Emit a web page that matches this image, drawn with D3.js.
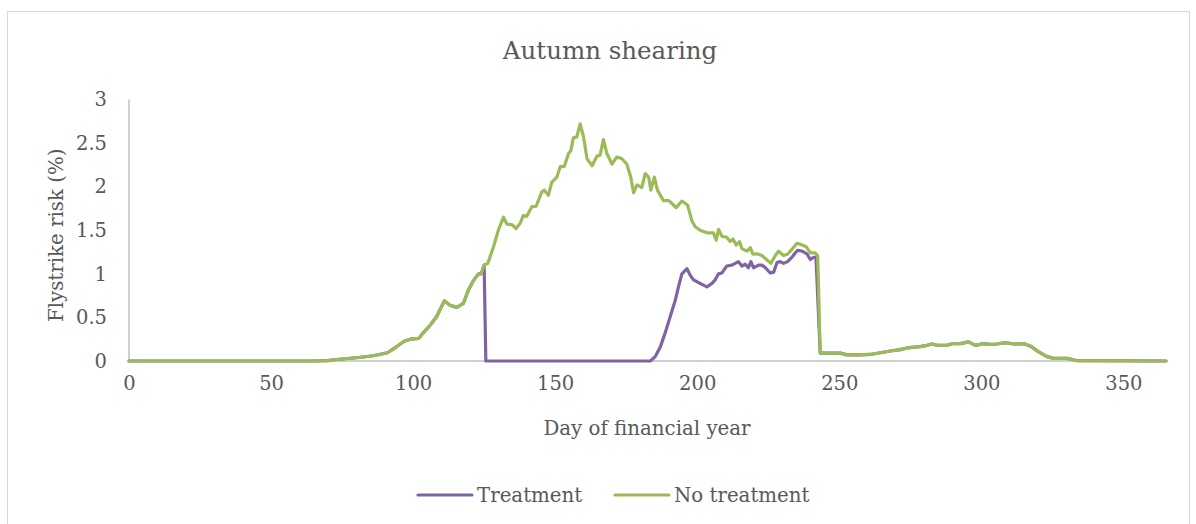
<!DOCTYPE html>
<html>
<head>
<meta charset="utf-8">
<script src="https://cdn.jsdelivr.net/npm/d3@7"></script>
<style>
  html, body { margin: 0; padding: 0; background: #fff; }
  svg { display: block; }
  text { font-family: "DejaVu Serif", "Liberation Serif", serif; fill: #595959; }
</style>
</head>
<body>
<svg id="chart" width="1196" height="524"></svg>
<script>
// ---- Data ----
const title = "Autumn shearing";
const xLabel = "Day of financial year";
const yLabel = "Flystrike risk (%)";
const seriesNames = ["Treatment", "No treatment"];
const xTicks = [0, 50, 100, 150, 200, 250, 300, 350];
const yTicks = [0, 0.5, 1, 1.5, 2, 2.5, 3];

// No treatment
const noTreatDays = [0,65,70,74,81,86,91,94,97,99,102,103.5,106,108.3,111,113,115.4,117.7,119.4,121,123,124,125,
  126.3,128.3,130,131.8,133,134.8,136.2,137.7,138.8,140,141.8,143.3,145.3,146.2,147.6,148.8,150.6,151.8,153.2,154.7,155.5,
  156.4,157.6,158.8,160,161.2,163,164.7,165.8,167,168.2,170,171.7,173.5,175.2,176.6,177.6,178.8,180.5,181.7,182.9,183.7,
  184.9,186,188.1,190,191,192.6,194.6,196.6,198.1,199.3,201,203.4,205.7,206.7,207.5,208.7,210.4,211.6,212.6,213.7,214.9,
  215.7,217.5,218.7,219.6,221,222.8,224.5,225.9,227.5,228.6,230.4,231.8,233.3,235.1,236.3,238.4,239.8,241.5,242.4,
  243.3,246.8,250.4,252.7,257.4,260.9,264.4,268,271.5,273.8,278.5,280.9,282.6,284.4,287.9,290.2,292.6,295.5,297.9,300.8,
  303.2,305.5,308.5,311.4,314.9,317.3,320.2,323.1,325.5,330.2,333.5,365];
const noTreatRisk = [0,0,0.005,0.02,0.04,0.06,0.095,0.16,0.23,0.25,0.26,0.32,0.41,0.51,0.69,0.64,0.615,0.66,0.81,0.91,1.0,1.0,1.10,
  1.12,1.31,1.50,1.65,1.57,1.565,1.52,1.58,1.67,1.66,1.77,1.775,1.94,1.96,1.90,2.05,2.11,2.23,2.23,2.38,2.41,
  2.56,2.57,2.72,2.57,2.32,2.24,2.35,2.36,2.54,2.38,2.26,2.34,2.32,2.26,2.11,1.93,2.02,1.99,2.15,2.11,1.96,
  2.11,1.96,1.84,1.84,1.81,1.76,1.835,1.79,1.61,1.54,1.50,1.47,1.47,1.385,1.51,1.43,1.42,1.37,1.40,1.33,1.37,
  1.29,1.26,1.30,1.225,1.23,1.21,1.16,1.12,1.21,1.26,1.21,1.225,1.28,1.35,1.34,1.31,1.24,1.24,1.21,
  0.09,0.09,0.09,0.07,0.07,0.075,0.095,0.115,0.13,0.15,0.165,0.18,0.195,0.18,0.18,0.20,0.20,0.22,0.18,0.20,
  0.19,0.195,0.21,0.195,0.20,0.17,0.105,0.05,0.03,0.03,0.005,0];

// Treatment: differs from "No treatment" only between the shearing drop and the end of the high-risk period
const treatMidDays = [125.6,183.5,185.2,187,188.7,190.5,192.3,193.4,194.6,196.4,197.5,198.7,201,203.4,205.2,206.3,207.5,
  208.7,210.4,212.2,213.4,214.5,215.7,216.9,218,218.9,219.8,221.6,222.8,224,225.7,226.9,228.1,229.2,230.4,231.8,233.3,
  235.3,236.9,238.6,239.8,241,241.8];
const treatMidRisk = [0,0,0.05,0.16,0.32,0.51,0.70,0.85,1.00,1.06,0.985,0.93,0.89,0.85,0.89,0.93,1.00,
  1.01,1.09,1.10,1.12,1.14,1.09,1.11,1.07,1.14,1.07,1.10,1.10,1.07,1.01,1.02,1.13,1.14,1.12,1.14,1.19,
  1.27,1.26,1.23,1.165,1.19,1.19];

const colors = ["#8064a2", "#9bbb59"];

// ---- Build series ----
const noTreat = noTreatDays.map((d, i) => ({ x: d, y: noTreatRisk[i] }));
const treat = []
  .concat(noTreat.filter(p => p.x <= 125))
  .concat(treatMidDays.map((d, i) => ({ x: d, y: treatMidRisk[i] })))
  .concat(noTreat.filter(p => p.x >= 243.3));

// ---- Layout ----
const svg = d3.select("#chart");
const plotL = 129, plotR = 1166, plotT = 99.5, plotB = 361;
const FONT = '"DejaVu Serif", "Liberation Serif", serif';

svg.append("rect").attr("x", 7.5).attr("y", 11.5).attr("width", 1182).attr("height", 530)
  .attr("fill", "#fff").attr("stroke", "#d9d9d9").attr("stroke-width", 1);

const x = d3.scaleLinear().domain([0, 365]).range([plotL, plotR]);
const y = d3.scaleLinear().domain([0, 3]).range([plotB, plotT]);

// axes lines
svg.append("line").attr("x1", plotL).attr("x2", plotR).attr("y1", plotB).attr("y2", plotB)
  .attr("stroke", "#bfbfbf").attr("stroke-width", 1.5);
svg.append("line").attr("x1", plotL).attr("x2", plotL).attr("y1", plotT).attr("y2", plotB)
  .attr("stroke", "#bfbfbf").attr("stroke-width", 1.5);

// y tick labels
const yAxis = d3.axisLeft(y).tickValues(yTicks).tickSize(0).tickPadding(22).tickFormat(d3.format("~g"));
const gy = svg.append("g").attr("transform", `translate(${plotL},0)`).call(yAxis);
gy.select(".domain").remove();
gy.selectAll("text").attr("font-size", 19.5).attr("fill", "#595959").attr("font-family", FONT);

// x tick labels
const xAxis = d3.axisBottom(x).tickValues(xTicks).tickSize(0).tickPadding(15);
const gx = svg.append("g").attr("transform", `translate(0,${plotB})`).call(xAxis);
gx.select(".domain").remove();
gx.selectAll("text").attr("font-size", 19.5).attr("fill", "#595959").attr("font-family", FONT);

// lines
const line = d3.line().x(d => x(d.x)).y(d => y(d.y)).curve(d3.curveLinear);
[treat, noTreat].forEach((s, i) => {
  svg.append("path").datum(s).attr("d", line).attr("fill", "none")
    .attr("stroke", colors[i]).attr("stroke-width", 3.2)
    .attr("stroke-linejoin", "round").attr("stroke-linecap", "round");
});

// titles
svg.append("text").attr("x", 610).attr("y", 59).attr("text-anchor", "middle")
  .attr("font-size", 24.5).text(title);
svg.append("text").attr("x", 647).attr("y", 435).attr("text-anchor", "middle")
  .attr("font-size", 19.8).text(xLabel);
svg.append("text").attr("transform", `translate(63,${(plotT + plotB) / 2 + 5}) rotate(-90)`)
  .attr("text-anchor", "middle").attr("font-size", 19.8).text(yLabel);

// legend
const legX = [418, 615];
seriesNames.forEach((n, i) => {
  svg.append("line").attr("x1", legX[i]).attr("x2", legX[i] + 54).attr("y1", 495).attr("y2", 495)
    .attr("stroke", colors[i]).attr("stroke-width", 3.2).attr("stroke-linecap", "round");
  svg.append("text").attr("x", legX[i] + 59).attr("y", 501.5).attr("font-size", 19.8).text(n);
});
</script>
</body>
</html>
